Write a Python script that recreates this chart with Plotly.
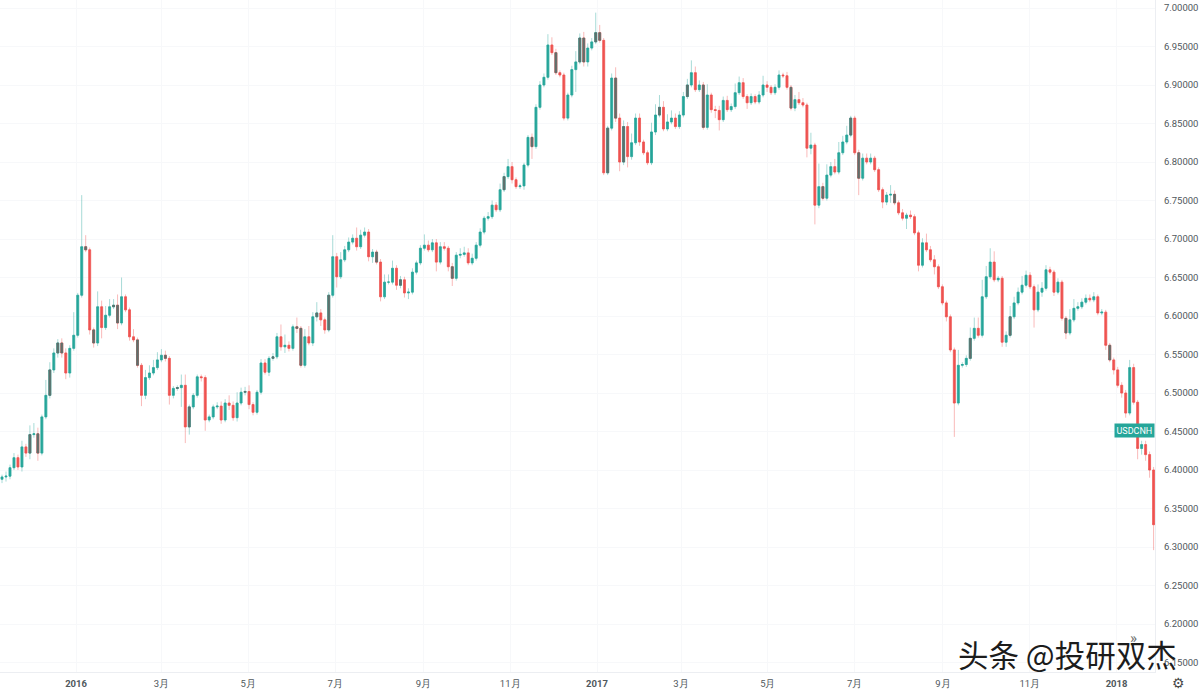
import pandas as pd
import plotly.graph_objects as go

# USD/CNH closes, ten candles per row
closes = [
 6.391,6.392,6.403,6.416,6.404,6.430,6.422,6.446,6.447,6.422,
 6.469,6.497,6.530,6.552,6.565,6.552,6.526,6.558,6.575,6.627,
 6.690,6.686,6.582,6.565,6.612,6.585,6.601,6.612,6.614,6.591,
 6.625,6.608,6.573,6.569,6.536,6.497,6.520,6.526,6.533,6.543,
 6.549,6.545,6.497,6.506,6.507,6.510,6.456,6.482,6.497,6.521,
 6.520,6.465,6.469,6.482,6.483,6.465,6.487,6.484,6.468,6.487,
 6.501,6.502,6.485,6.475,6.501,6.539,6.527,6.545,6.547,6.573,
 6.560,6.562,6.558,6.586,6.584,6.536,6.573,6.565,6.599,6.604,
 6.595,6.582,6.627,6.677,6.651,6.673,6.686,6.696,6.701,6.690,
 6.705,6.709,6.677,6.683,6.670,6.625,6.644,6.644,6.662,6.640,
 6.647,6.630,6.631,6.657,6.669,6.688,6.692,6.686,6.695,6.670,
 6.690,6.688,6.664,6.649,6.679,6.680,6.682,6.669,6.675,6.692,
 6.709,6.727,6.729,6.744,6.738,6.764,6.781,6.794,6.777,6.768,
 6.769,6.796,6.832,6.820,6.871,6.900,6.910,6.952,6.942,6.916,
 6.913,6.857,6.887,6.920,6.930,6.961,6.930,6.948,6.956,6.968,
 6.958,6.786,6.844,6.909,6.857,6.800,6.846,6.807,6.825,6.857,
 6.826,6.812,6.799,6.839,6.861,6.871,6.843,6.852,6.857,6.846,
 6.861,6.885,6.900,6.916,6.894,6.900,6.845,6.887,6.868,6.867,
 6.855,6.880,6.868,6.872,6.890,6.903,6.885,6.877,6.885,6.878,
 6.887,6.900,6.897,6.890,6.897,6.913,6.912,6.897,6.870,6.881,
 6.877,6.874,6.818,6.822,6.744,6.768,6.753,6.783,6.794,6.787,
 6.812,6.826,6.835,6.857,6.812,6.779,6.805,6.800,6.805,6.790,
 6.764,6.748,6.757,6.758,6.747,6.734,6.727,6.731,6.729,6.708,
 6.666,6.695,6.686,6.673,6.664,6.638,6.617,6.599,6.556,6.487,
 6.536,6.537,6.545,6.571,6.584,6.575,6.625,6.651,6.670,6.647,
 6.649,6.566,6.575,6.599,6.617,6.631,6.640,6.653,6.638,6.608,
 6.631,6.636,6.660,6.657,6.631,6.644,6.597,6.578,6.595,6.610,
 6.612,6.618,6.623,6.621,6.625,6.604,6.605,6.562,6.543,6.530,
 6.510,6.500,6.474,6.533,6.488,6.428,6.433,6.420,6.400,6.329,
]
first_open = 6.388

# upper and lower wick lengths, in thousandths of a yuan
upper_wick = [
 3,6,4,6,4,8,4,12,14,8,
 3,20,10,6,5,6,6,4,30,3,
 67,15,3,3,20,8,12,10,8,14,
 25,3,3,10,3,3,10,10,10,10,
 8,6,3,3,3,14,14,3,3,3,
 3,3,3,3,5,6,5,10,5,14,
 6,6,8,3,3,5,5,3,5,5,
 16,14,5,3,12,3,10,14,6,14,
 5,3,4,28,5,10,5,6,5,14,
 7,6,4,4,3,4,10,10,10,4,
 5,4,5,5,3,4,14,6,5,5,
 6,6,3,5,4,8,8,6,6,4,
 5,3,6,6,4,8,5,10,6,3,
 3,3,3,5,4,5,5,14,10,5,
 3,3,3,5,14,6,8,6,5,26,
 10,3,3,6,14,6,8,6,12,6,
 6,3,3,12,14,16,8,10,10,6,
 5,6,8,16,8,6,4,14,3,5,
 6,5,6,4,12,8,6,3,4,3,
 5,12,5,3,4,6,3,5,3,6,
 10,6,3,16,3,30,5,14,6,10,
 14,8,12,3,3,4,6,6,6,3,
 3,3,4,12,5,3,5,3,6,3,
 3,6,12,5,6,3,3,3,3,3,
 20,3,4,14,14,14,22,14,18,14,
 3,3,5,14,8,6,12,6,4,3,
 10,8,6,4,3,5,3,3,14,12,
 6,5,5,5,6,3,4,3,3,3,
 4,4,4,10,5,3,5,5,4,4,
]
lower_wick = [
 5,6,4,3,4,6,5,8,4,10,
 3,3,4,4,6,6,8,6,3,3,
 3,3,6,6,4,14,3,3,3,8,
 3,3,5,3,3,14,5,3,3,3,
 3,4,12,4,3,25,21,10,3,3,
 5,14,3,3,3,5,3,6,4,5,
 3,4,6,4,3,3,3,5,3,3,
 5,8,4,3,6,3,3,3,4,6,
 8,5,3,3,14,3,3,3,3,5,
 3,3,6,8,3,6,3,3,3,6,
 4,6,8,3,3,3,3,3,3,12,
 3,3,6,10,3,4,3,3,3,3,
 3,3,3,3,3,3,3,3,5,3,
 3,5,3,16,3,3,3,3,3,3,
 3,3,3,3,29,3,6,6,3,3,
 3,3,3,3,5,12,4,14,4,3,
 5,3,3,3,4,3,3,3,3,3,
 3,3,3,3,3,3,3,3,4,10,
 14,3,3,3,3,3,3,8,3,3,
 3,3,6,3,3,3,3,3,3,4,
 3,3,12,8,25,4,3,3,3,3,
 3,3,3,3,3,22,3,3,3,3,
 3,8,4,10,3,3,3,14,3,3,
 8,3,3,3,10,3,3,6,3,44,
 3,3,3,3,3,3,3,3,3,3,
 3,6,6,3,3,3,3,3,3,23,
 3,6,3,3,5,3,3,8,3,3,
 3,3,3,3,3,3,3,6,3,6,
 3,6,6,3,3,14,8,8,10,33,
]

# candles that look dark grey in the reference (mixed up and down days blurred together)
mixed_candles = [7,9,12,14,15,21,23,28,29,34,41,44,47,61,68,74,75,79,82,94,100,113,126,
                 133,139,145,146,149,150,152,154,156,165,172,176,198,206,213,215,224,
                 243,253,267,278]

first_date = "2015-11-10"
last_date = "2018-01-27"
x_start = "2015-11-08 14:00"
x_end = "2018-01-28"
y_bottom = 6.1377
y_top = 7.0104

x_tick_dates = ["2016-01-01","2016-03-01","2016-05-01","2016-07-01","2016-09-01","2016-11-01",
                "2017-01-01","2017-03-01","2017-05-01","2017-07-01","2017-09-01","2017-11-01","2018-01-01"]
x_tick_labels = ["<b>2016</b>","3月","5月","7月","9月","11月","<b>2017</b>","3月","5月","7月","9月","11月","<b>2018</b>"]
y_ticks = [6.15,6.20,6.25,6.30,6.35,6.40,6.45,6.50,6.55,6.60,6.65,6.70,6.75,6.80,6.85,6.90,6.95,7.00]

UP = "#26a69a"
DOWN = "#ef5350"
MIXED = "#5f706d"
UP_WICK = "rgba(38,166,154,0.4)"
DOWN_WICK = "rgba(239,83,80,0.4)"
GRID = "#f7f8fa"
TEXT = "#50585c"
FONT = "Roboto, Arial, sans-serif"

dates = pd.date_range(first_date, last_date, periods=len(closes))
opens = [first_open] + closes[:-1]
highs = [max(o, c) + u / 1000 for o, c, u in zip(opens, closes, upper_wick)]
lows = [min(o, c) - l / 1000 for o, c, l in zip(opens, closes, lower_wick)]
body_top = [max(o, c) for o, c in zip(opens, closes)]
body_bottom = [min(o, c) for o, c in zip(opens, closes)]

fig = go.Figure()
fig.add_trace(go.Candlestick(
    x=dates, open=opens, high=highs, low=lows, close=closes, whiskerwidth=0,
    increasing=dict(line=dict(color=UP_WICK, width=1), fillcolor="rgba(0,0,0,0)"),
    decreasing=dict(line=dict(color=DOWN_WICK, width=1), fillcolor="rgba(0,0,0,0)"),
    showlegend=False,
))
fig.add_trace(go.Candlestick(
    x=dates, open=opens, high=body_top, low=body_bottom, close=closes, whiskerwidth=0,
    increasing=dict(line=dict(color=UP, width=0.6), fillcolor=UP),
    decreasing=dict(line=dict(color=DOWN, width=0.6), fillcolor=DOWN),
    showlegend=False,
))
fig.add_trace(go.Candlestick(
    x=dates[mixed_candles],
    open=[opens[i] for i in mixed_candles],
    high=[body_top[i] for i in mixed_candles],
    low=[body_bottom[i] for i in mixed_candles],
    close=[closes[i] for i in mixed_candles],
    whiskerwidth=0,
    increasing=dict(line=dict(color=MIXED, width=0.6), fillcolor=MIXED),
    decreasing=dict(line=dict(color=MIXED, width=0.6), fillcolor=MIXED),
    showlegend=False,
))

fig.update_layout(
    width=1200, height=692, autosize=False,
    margin=dict(l=0, r=45, t=0, b=20),
    paper_bgcolor="white", plot_bgcolor="white",
    boxmode="overlay", boxgap=0.3,
    showlegend=False,
    font=dict(family=FONT, size=10, color=TEXT),
    xaxis=dict(
        type="date", range=[x_start, x_end], rangeslider=dict(visible=False),
        tickmode="array", tickvals=x_tick_dates, ticktext=x_tick_labels,
        showgrid=True, gridcolor=GRID, gridwidth=1, zeroline=False,
        showline=True, linecolor="#eceef2", linewidth=1, ticks="", ticklabelstandoff=3,
        tickfont=dict(family=FONT, size=9.5, color=TEXT),
    ),
    yaxis=dict(
        side="right", range=[y_bottom, y_top],
        tickmode="array", tickvals=y_ticks, tickformat=".5f",
        showgrid=True, gridcolor=GRID, gridwidth=1, zeroline=False,
        showline=True, linecolor="#eceef2", linewidth=1, ticks="", ticklabelstandoff=6,
        tickfont=dict(family=FONT, size=9.5, color=TEXT),
    ),
    annotations=[
        dict(xref="x domain", yref="y", x=1, y=6.4515, xanchor="right", yanchor="middle",
             text="USDCNH", showarrow=False, bgcolor=UP, borderpad=1.5,
             font=dict(family=FONT, size=9, color="white")),
        dict(xref="paper", yref="paper", x=1.0208, y=0.0262, xanchor="right", yanchor="middle",
             text="头条 @投研双杰", showarrow=False,
             font=dict(family="Noto Sans CJK SC", size=30.5, color="#1c1c1c")),
        dict(xref="paper", yref="paper", x=0.9815, y=0.0505, xanchor="center", yanchor="middle",
             text="»", showarrow=False, font=dict(family=FONT, size=15, color="#707070")),
        dict(xref="paper", yref="paper", x=1.0205, y=-0.0165, xanchor="center", yanchor="middle",
             text="⚙", showarrow=False, font=dict(family="DejaVu Sans", size=14, color="#4a4a4a")),
    ],
)

fig.write_html("out.html", config=dict(displayModeBar=False),
               post_script="document.body.style.margin='0';")
